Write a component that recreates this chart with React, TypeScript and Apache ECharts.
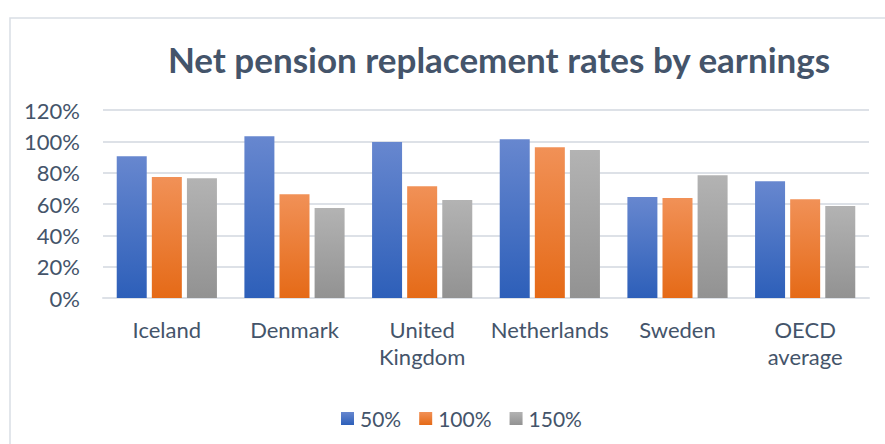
import React, { useEffect, useRef } from "react";
import * as echarts from "echarts";

const categories = ["Iceland", "Denmark", "United\nKingdom", "Netherlands", "Sweden", "OECD\naverage"];
const seriesNames = ["50%", "100%", "150%"];
const earnings50 = [90.4, 103.3, 99.5, 101.4, 64.4, 74.6];
const earnings100 = [77.2, 66.3, 71.4, 96.3, 63.8, 63.1];
const earnings150 = [76.5, 57.4, 62.5, 94.4, 78.4, 58.7];
const yTicks = { min: 0, max: 120, interval: 20 };

const TEXT = "#44546A";
const FONT = "Lato";

function grad(top: string, bottom: string) {
  return new echarts.graphic.LinearGradient(0, 0, 0, 1, [
    { offset: 0, color: top },
    { offset: 1, color: bottom },
  ]);
}

export default function App() {
  const ref = useRef<HTMLDivElement>(null);
  useEffect(() => {
    if (!ref.current) return;
    const chart = echarts.init(ref.current, undefined, { renderer: "svg" });
    const colors = [
      grad("#6787CF", "#2D5FB9"),
      grad("#F19157", "#E56A17"),
      grad("#B3B3B3", "#929292"),
    ];
    const data = [earnings50, earnings100, earnings150];
    chart.setOption({
      animation: false,
      textStyle: { fontFamily: FONT },
      title: {
        text: "Net pension replacement rates by earnings",
        left: 494,
        top: 36,
        textAlign: "center",
        textStyle: { fontFamily: FONT, fontSize: 35, fontWeight: "bold", color: TEXT },
      },
      graphic: [
        {
          type: "rect",
          shape: { x: 10, y: 18, width: 900, height: 500 },
          style: { fill: "none", stroke: "#D9DEE5", lineWidth: 1.5 },
          silent: true,
        },
      ],
      legend: {
        left: 336,
        top: 403,
        itemWidth: 13,
        itemHeight: 13,
        itemGap: 18,
        icon: "rect",
        textStyle: { fontFamily: FONT, fontSize: 21, color: TEXT, padding: [0, 0, 0, 1] },
        data: seriesNames,
      },
      grid: { left: 103, right: 16, top: 110, bottom: 146, containLabel: false },
      xAxis: {
        type: "category",
        data: categories,
        axisLine: { show: true, lineStyle: { color: "#DDE1E7", width: 2 } },
        axisTick: { show: false },
        axisLabel: {
          fontFamily: FONT,
          fontSize: 22,
          color: TEXT,
          margin: 18,
          lineHeight: 27,
          interval: 0,
        },
      },
      yAxis: {
        type: "value",
        min: yTicks.min,
        max: yTicks.max,
        interval: yTicks.interval,
        axisLine: { show: false },
        axisTick: { show: false },
        splitLine: { lineStyle: { color: "#DDE1E7", width: 2 } },
        axisLabel: {
          formatter: "{value}%",
          fontFamily: FONT,
          fontSize: 22,
          color: TEXT,
          margin: 23,
        },
      },
      series: seriesNames.map((name, i) => ({
        name,
        type: "bar",
        data: data[i],
        barWidth: 30,
        barGap: "17%",
        itemStyle: { color: colors[i] },
      })),
    });
    return () => chart.dispose();
  }, []);
  return (
    <div
      ref={ref}
      style={{ position: "fixed", left: 0, top: 0, width: 885, height: 444, background: "#fff" }}
    />
  );
}
